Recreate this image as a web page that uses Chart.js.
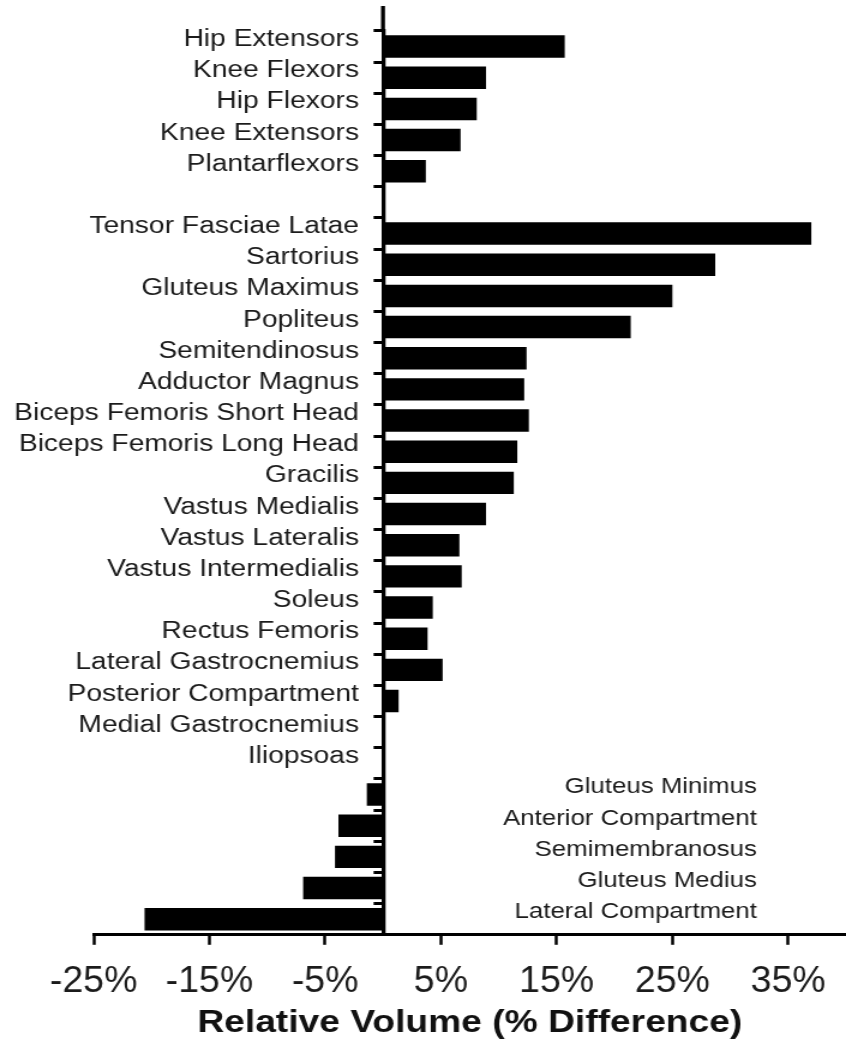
<!DOCTYPE html>
<html>
<head>
<meta charset="utf-8">
<title>Relative Volume</title>
<script src="https://cdn.jsdelivr.net/npm/chart.js@4.4.1/dist/chart.umd.min.js"></script>
<style>
  html, body { margin: 0; padding: 0; background: #fff; }
</style>
</head>
<body>
<!-- drawn at 705 wide and shown at 846: the figure's lettering is wide -->
<canvas id="volume" width="705" height="1045" style="display:block;width:846px;height:1045px"></canvas>
<script>
const muscles = [
    'Hip Extensors', 'Knee Flexors', 'Hip Flexors', 'Knee Extensors', 'Plantarflexors', '',
    'Tensor Fasciae Latae', 'Sartorius', 'Gluteus Maximus', 'Popliteus', 'Semitendinosus',
    'Adductor Magnus', 'Biceps Femoris Short Head', 'Biceps Femoris Long Head', 'Gracilis',
    'Vastus Medialis', 'Vastus Lateralis', 'Vastus Intermedialis', 'Soleus', 'Rectus Femoris',
    'Lateral Gastrocnemius', 'Posterior Compartment', 'Medial Gastrocnemius', 'Iliopsoas',
    'Gluteus Minimus', 'Anterior Compartment', 'Semimembranosus', 'Gluteus Medius',
    'Lateral Compartment'
];
const volumeDiff = [
    15.7, 8.9, 8.1, 6.7, 3.7, null,
    37.0, 28.7, 25.0, 21.4, 12.4,
    12.2, 12.6, 11.6, 11.3,
    8.9, 6.6, 6.8, 4.3, 3.85,
    5.15, 1.35, 0, 0,
    -1.4, -3.85, -4.15, -6.9,
    -20.6
];
const xTickValues = [-25, -15, -5, 5, 15, 25, 35];

const fontFamily = '"Liberation Sans", Arial, Helvetica, sans-serif';
const stretch = 846 / 705;

// muscle names: left of the axis for gains, in the empty right side for losses
const muscleLabels = {
    id: 'muscleLabels',
    afterDraw(chart) {
        const ctx = chart.ctx;
        const area = chart.chartArea;
        const x = chart.scales.x;
        const y = chart.scales.y;
        const x0 = x.getPixelForValue(0);

        ctx.save();
        // axis line runs a bit above the first row
        ctx.strokeStyle = '#000';
        ctx.lineWidth = 3.3;
        ctx.beginPath();
        ctx.moveTo(x0, area.top + 1);
        ctx.lineTo(x0, 6);
        ctx.stroke();

        ctx.fillStyle = '#1b1b1b';
        ctx.textAlign = 'right';
        ctx.textBaseline = 'middle';
        muscles.forEach(function (name, i) {
            if (!name) return;
            const yc = y.getPixelForValue(i) - 7;
            if (volumeDiff[i] < 0) {
                ctx.font = '21.5px ' + fontFamily;
                ctx.fillText(name, x.getPixelForValue(32.3), yc);
            } else {
                ctx.font = '23.5px ' + fontFamily;
                ctx.fillText(name, x0 - 20, yc);
            }
        });
        ctx.restore();
    }
};

// percent numbers under the x ticks, kept at normal proportions
const percentTicks = {
    id: 'percentTicks',
    afterDraw(chart) {
        const ctx = chart.ctx;
        const x = chart.scales.x;
        const base = chart.chartArea.bottom + 57;
        ctx.save();
        ctx.fillStyle = '#1b1b1b';
        ctx.font = '37.5px ' + fontFamily;
        ctx.textAlign = 'center';
        ctx.textBaseline = 'alphabetic';
        xTickValues.forEach(function (v) {
            ctx.save();
            ctx.translate(x.getPixelForValue(v), base);
            ctx.scale(1 / stretch, 1);
            ctx.fillText(v + '%', 0, 0);
            ctx.restore();
        });
        ctx.restore();
    }
};

new Chart(document.getElementById('volume'), {
    type: 'bar',
    data: {
        labels: muscles,
        datasets: [{
            data: volumeDiff,
            backgroundColor: '#000',
            categoryPercentage: 1,
            barPercentage: 0.72
        }]
    },
    options: {
        indexAxis: 'y',
        responsive: false,
        animation: false,
        devicePixelRatio: 1,
        layout: { padding: { top: 31, left: 78, right: 0, bottom: 3 } },
        plugins: {
            legend: { display: false },
            tooltip: { enabled: false }
        },
        scales: {
            x: {
                min: -25,
                max: 40,
                afterBuildTicks: function (axis) {
                    axis.ticks = xTickValues.map(v => ({ value: v }));
                },
                grid: { drawOnChartArea: false, tickLength: 10, tickWidth: 2.5, tickColor: '#000' },
                border: { color: '#000', width: 3 },
                ticks: { display: false },
                title: {
                    display: true,
                    text: 'Relative Volume (% Difference)',
                    color: '#111',
                    font: { family: fontFamily, size: 31, weight: 'bold' },
                    padding: { top: 60, bottom: 0 }
                }
            },
            y: {
                position: { x: 0 },
                grid: { drawOnChartArea: false, offset: true, tickLength: 6.7, tickWidth: 3, tickColor: '#000' },
                border: { color: '#000', width: 3.3 },
                ticks: { display: false }
            }
        }
    },
    plugins: [muscleLabels, percentTicks]
});
</script>
</body>
</html>
